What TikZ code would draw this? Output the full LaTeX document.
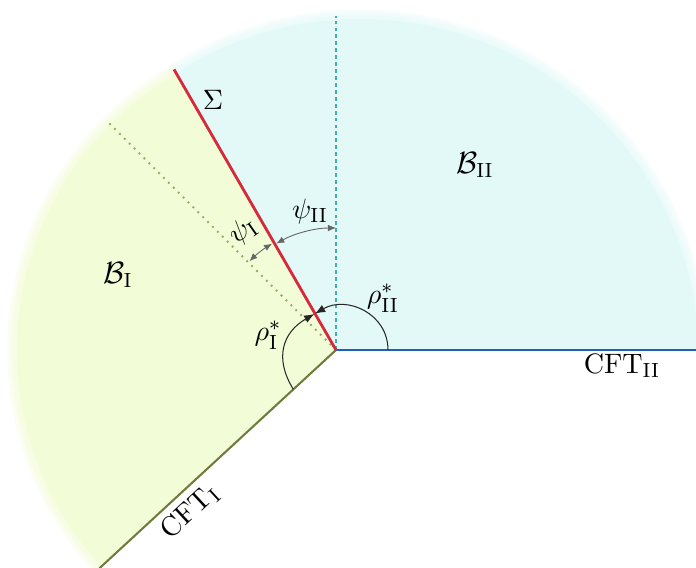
\documentclass[tikz,border=0pt]{standalone}
\usepackage{amsmath}
\usepackage{xcolor}
\definecolor{wedgeone}{HTML}{F2FCD6}
\definecolor{wedgetwo}{HTML}{E2F9F8}
\definecolor{sigred}{HTML}{D42A3C}
\definecolor{cftblue}{HTML}{1F5EC4}
\definecolor{cftolive}{HTML}{6E7B3C}
\definecolor{dashteal}{HTML}{3FB0B0}
\definecolor{dotolive}{HTML}{98A664}
\usetikzlibrary{arrows.meta,calc}
\tikzset{
  every picture/.style={line width=0.4pt},
  tip/.style={-{Latex[length=1.4mm,width=1.1mm]}},
  angarc/.style={tip, draw=black!85, line width=0.4pt},
  psiarc/.style={{Latex[length=1.1mm,width=0.9mm]}-{Latex[length=1.1mm,width=0.9mm]}, draw=black!60, line width=0.35pt},
  tag/.style={inner sep=1pt, font=\fontsize{11}{13}\selectfont},
  bound/.style={line width=#1},
  bound/.default=1.1pt,
}

\begin{document}
\begin{tikzpicture}[x=0.0137cm, y=0.0137cm]
  \useasboundingbox (-336,-218) rectangle (360,350);
  \coordinate (O) at (0,0);
  % soft-edged wedges
  \begin{scope}
    \clip (O) -- (0:600) -- (60:600) -- (120:600) -- cycle;
    \fill[wedgetwo] (24,-8) circle (339);
    \foreach \r in {341,343,...,349}
      \fill[wedgetwo, opacity=0.22] (24,-8) circle (\r);
  \end{scope}
  \begin{scope}
    \clip (O) -- (120:600) -- (171:600) -- (222.7:600) -- cycle;
    \fill[wedgeone] (O) circle (319);
    \foreach \r in {321,323,...,329}
      \fill[wedgeone, opacity=0.22] (O) circle (\r);
  \end{scope}

  \coordinate (sigTop) at (120:324);
  \coordinate (dotEnd) at (135:322);
  \coordinate (dashEnd) at (90:334);
  \coordinate (cftIIEnd) at (360,0);
  \coordinate (cftIEnd) at (222.7:322);

  \draw[dotolive, dotted, line width=0.7pt] (O) -- (dotEnd);
  \draw[dashteal, dash pattern=on 1.5pt off 1.2pt, line width=0.5pt] (O) -- (dashEnd);
  \draw[cftblue, bound] (O) -- (cftIIEnd);
  \draw[cftolive, bound=0.8pt] (O) -- (cftIEnd);
  \draw[sigred, bound] (O) -- (sigTop);

  % angle markers
  \coordinate (psiIIa) at (90:122);
  \coordinate (psiIa) at (121:124);
  \coordinate (rhoIIa) at (52,0);
  \coordinate (rhoIIb) at (120:42);
  \coordinate (rhoIa) at (222.7:58);
  \coordinate (rhoIb) at (121:42);
  \draw[psiarc] (psiIIa) arc[start angle=90, end angle=119.3, radius=122];
  \draw[psiarc] (psiIa) arc[start angle=121, end angle=134.3, radius=124];
  \draw[angarc] (rhoIIa) to[out=90, in=30, looseness=1.15] (rhoIIb);
  \draw[angarc] (rhoIa) to[out=122, in=210, looseness=1.2] (rhoIb);

  % labels
  \node[tag] (sigma) at (-123,250) {$\Sigma$};
  \node[tag] (bII) at (139,185) {\large$\mathcal{B}_{\mathrm{II}}$};
  \node[tag] (bI) at (-218,75) {\large$\mathcal{B}_{\mathrm{I}}$};
  \node[tag] (cftII) at (286,-16) {$\mathrm{CFT}_{\mathrm{II}}$};
  \node[tag, rotate=42.7] (cftI) at (-146,-162) {$\mathrm{CFT}_{\mathrm{I}}$};
  \node[tag] (rhoII) at (47,52) {$\rho^*_{\mathrm{II}}$};
  \node[tag] (rhoI) at (-68,15) {$\rho^*_{\mathrm{I}}$};
  \node[tag] (psiII) at (-26,139) {$\psi_{\mathrm{II}}$};
  \node[tag, rotate=35] (psiI) at (-93,119) {$\psi_{\mathrm{I}}$};
\end{tikzpicture}
\end{document}
